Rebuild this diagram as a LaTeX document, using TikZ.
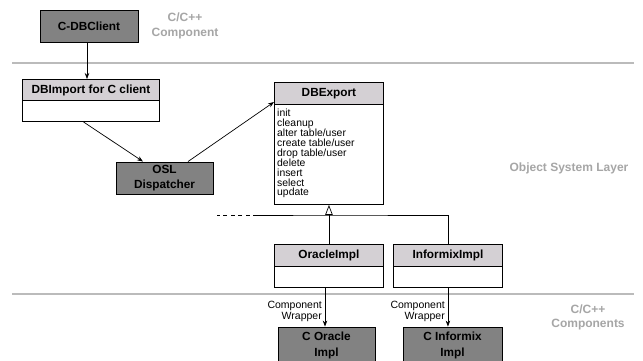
\documentclass[tikz,border=0pt]{standalone}
\usepackage{fontspec}
\setmainfont{Liberation Sans}
\usetikzlibrary{arrows.meta,calc}
\definecolor{darkbox}{HTML}{828282}
\definecolor{hdrfill}{HTML}{D4D0D4}
\definecolor{layertext}{HTML}{A6A6A6}
\definecolor{layerline}{HTML}{BBBBBB}
\tikzset{
  darkbx/.style={draw, fill=darkbox, line width=0.9pt, font=\fontsize{11.8}{15}\selectfont\bfseries, align=center, inner sep=0pt},
  clsbox/.style={draw, fill=white, line width=0.9pt, anchor=north west, inner sep=0pt},
  hdr/.style={draw, fill=hdrfill, line width=0.9pt, anchor=north, inner sep=0pt, font=\fontsize{11.8}{13}\selectfont\bfseries},
  layer/.style={text=layertext, font=\fontsize{12}{15}\selectfont\bfseries, align=center, inner sep=0pt},
  layerrule/.style={draw=layerline, line width=2.5pt},
  conn/.style={-{Stealth[length=6pt,width=4.5pt]}, line width=0.7pt},
  genline/.style={line width=0.7pt},
  lbl/.style={font=\fontsize{10.5}{10.5}\selectfont, align=right, anchor=east, inner sep=0pt},
  ops/.style={font=\fontsize{10.4}{9.9}\selectfont, align=left, anchor=north west, inner sep=0pt},
}
\begin{document}
\begin{tikzpicture}[x=1pt,y=-1pt]
\useasboundingbox (0,0) rectangle (643,360);
\clip (0,0) rectangle (643,360);
\fill[white] (0,0) rectangle (643,360);

% layer rules
\coordinate (r1a) at (12,63);
\coordinate (r1b) at (634,63);
\coordinate (r2a) at (12,294);
\coordinate (r2b) at (634,294);
\draw[layerrule] (r1a) -- (r1b);
\draw[layerrule] (r2a) -- (r2b);

% layer labels
\node[layer] (lc1) at (185,26) {C/C++\\Component};
\node[layer] (losl) at (569,168) {Object System Layer};
\node[layer, font=\fontsize{12}{14}\selectfont\bfseries] (lc2) at (588,317) {C/C++\\Components};

% dark component boxes
\node[darkbx, minimum width=98pt, minimum height=32pt] (cdb) at (89,26) {C-DBClient};
\node[darkbx, minimum width=97pt, minimum height=32pt] (osl) at (164.5,178) {OSL\\Dispatcher};
\node[darkbx, minimum width=97pt, minimum height=36pt, font=\fontsize{11.8}{16}\selectfont\bfseries] (cora) at (326.5,345) {C Oracle\\Impl};
\node[darkbx, minimum width=99pt, minimum height=36pt, font=\fontsize{11.8}{16}\selectfont\bfseries] (cinf) at (452.5,345) {C Informix\\Impl};

% class boxes
\node[clsbox, minimum width=137pt, minimum height=42pt] (dbimp) at (22,79) {};
\node[hdr, minimum width=137pt, minimum height=21pt] (dbimph) at (dbimp.north) {DBImport for C client};

\node[clsbox, minimum width=109pt, minimum height=122pt] (dbexp) at (274,82) {};
\node[hdr, minimum width=109pt, minimum height=22pt] (dbexph) at (dbexp.north) {DBExport};
\node[ops] (dbexpops) at (277,109) {init\\cleanup\\alter table/user\\create table/user\\drop table/user\\delete\\insert\\select\\update};

\node[clsbox, minimum width=109pt, minimum height=43pt] (ora) at (274,244) {};
\node[hdr, minimum width=109pt, minimum height=22pt] (orah) at (ora.north) {OracleImpl};

\node[clsbox, minimum width=109pt, minimum height=43pt] (inf) at (393,244) {};
\node[hdr, minimum width=109pt, minimum height=22pt] (infh) at (inf.north) {InformixImpl};

% connectors
\draw[conn] ([xshift=-2pt]cdb.south) -- ([xshift=-2pt]cdb.south |- dbimp.north);
\draw[conn] ([xshift=-7.5pt]dbimp.south) -- ([xshift=-21.5pt]osl.north);
\draw[conn] ([xshift=23.5pt]osl.north) -- ([yshift=-20pt]dbexp.north west);

% generalization
\coordinate (gj) at (328.5,215);
\coordinate (gd) at (257,215);
\coordinate (ge) at (217,215);
\draw[genline, -{Triangle[open,length=10pt,width=7.5pt]}] (ora.north) -- (dbexp.south);
\draw[genline] (inf.north) |- (gj) -- (gd);
\draw[genline, dash pattern=on 4pt off 3.5pt] (gd) -- (ge);

% wrappers
\draw[conn] ([xshift=-1.5pt]cora.north |- ora.south) -- ([xshift=-1.5pt]cora.north);
\draw[conn] (inf.south) -- (inf.south |- cinf.north);
\node[lbl] (lblo) at (322,311.5) {Component\\Wrapper};
\node[lbl] (lbli) at (445,311.5) {Component\\Wrapper};
\end{tikzpicture}
\end{document}
